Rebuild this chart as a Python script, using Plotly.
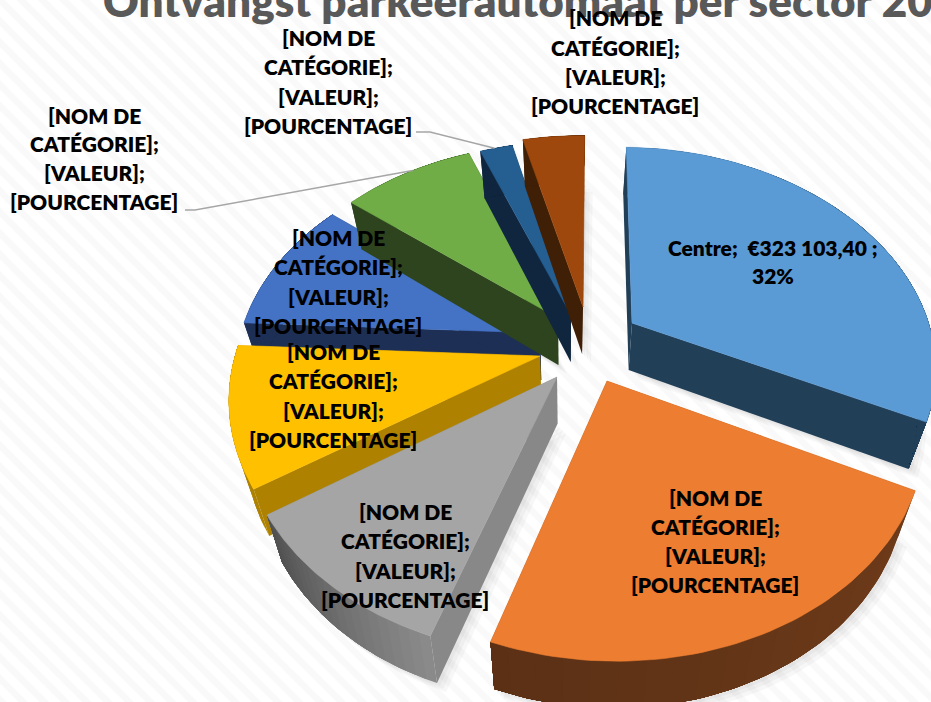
import numpy as np
import plotly.graph_objects as go

# ---- data ----
categories = ["Centre", "Cat 2", "Cat 3", "Cat 4", "Cat 5", "Cat 6", "Cat 7", "Cat 8"]
values = [323103.40, 233350, 104900, 100970, 100690, 85540, 21040, 40110]
colors = ["#5B9BD5", "#ED7D31", "#A5A5A5", "#FFC000", "#4472C4", "#70AD47", "#255E91", "#9E480E"]
radial_colors = ["#223F58", "#693A1B", "#888888", "#AE8200", "#1D2F55", "#2E441F", "#10263F", "#3F1F06"]
wall_from = ["#223F58", "#6E3B1A", "#8A8A8A", "#AE8200", "#1D2F55", "#2E441F", "#10263F", "#3F1F06"]
wall_to = ["#223F58", "#5A3015", "#4E4E4E", "#AE8200", "#1D2F55", "#2E441F", "#10263F", "#3F1F06"]
placeholder = ["[NOM DE", "CATÉGORIE];", "[VALEUR];", "[POURCENTAGE]"]
label_lines = [["Centre;  €323 103,40 ;", "32%"]] + [placeholder] * 7
title_text = "Ontvangst parkeerautomaat per sector 20"

# ---- layout of the drawing ----
W, H = 931, 702
CX, CY, R, RY, K = 565, 340, 301, 213, 0.18
ROTATION = np.radians(1.0)
DEPTH, SHRINK = 47, 0.95
tips = [(632, 323), (607, 381), (557, 377), (540, 356), (540, 333), (558, 318), (571, 315), (583, 307)]
draw_order = [4, 5, 6, 7, 3, 2, 1, 0]
label_x = [773, 715, 405, 333, 338, 94, 328, 615]
label_y = [[247, 275], [497, 526, 555, 584], [511, 540, 570, 599], [351, 380, 410, 439],
           [237, 266, 296, 325], [115, 143, 172, 201], [37, 66, 96, 125], [17, 47, 76, 105]]
LABEL_FONT = dict(family="Lato", size=21, color="#000000", weight=800)


def project(X, Y, low=False):
    s = 1 / (1 + K * Y)
    x = CX + R * X * s
    y = CY - RY * Y * s
    if low:
        x = CX + (x - CX) * SHRINK
        y = y + DEPTH
    return x, y


def unproject(px, py):
    a = (CY - py) / RY
    Y = a / (1 - K * a)
    s = 1 / (1 + K * Y)
    return (px - CX) / (R * s), Y


def mix(a, b, t):
    ca = [int(a[i:i + 2], 16) for i in (1, 3, 5)]
    cb = [int(b[i:i + 2], 16) for i in (1, 3, 5)]
    return "#%02x%02x%02x" % tuple(round(u + (v - u) * t) for u, v in zip(ca, cb))


fig = go.Figure()


def poly(xs, ys, color, width=0.0):
    fig.add_trace(go.Scatter(x=list(xs), y=list(ys), mode="lines", fill="toself", fillcolor=color,
                             line=dict(width=width, color=color), hoverinfo="skip", showlegend=False))


# background
fig.add_trace(go.Scatter(x=[0, W, W, 0, 0], y=[0, 0, H, H, 0], mode="lines", fill="toself",
                         fillcolor="#FFFFFF", line=dict(width=0), hoverinfo="skip", showlegend=False,
                         fillpattern=dict(shape="\\", size=15, solidity=0.45, fgcolor="#F3F3F3", bgcolor="#FFFFFF")))

total = sum(values)
edges = ROTATION + np.concatenate([[0], np.cumsum(values) / total * 2 * np.pi])
origin = [unproject(*t) for t in tips]


def arc(i, low=False, n=60):
    th = np.linspace(edges[i], edges[i + 1], n)
    return project(origin[i][0] + np.sin(th), origin[i][1] + np.cos(th), low)


# soft shadows
for i in range(len(values)):
    ax, ay = arc(i, True)
    ox, oy = project(*origin[i], True)
    for off in (3, 6, 9):
        poly(np.r_[ox + off, ax + off, ox + off], np.r_[oy + off, ay + off, oy + off], "rgba(0,0,0,0.03)")

# slices
for i in draw_order:
    tx, ty = arc(i, False)
    lx, ly = arc(i, True)
    ox, oy = project(*origin[i])
    bx, by = project(*origin[i], True)
    # radial walls
    poly([ox, tx[0], lx[0], bx, ox], [oy, ty[0], ly[0], by, oy], radial_colors[i])
    poly([ox, tx[-1], lx[-1], bx, ox], [oy, ty[-1], ly[-1], by, oy], radial_colors[i])
    # outer wall, painted over itself from each step to the end for the shading
    step = 3
    for j in range(0, len(tx) - 1, step):
        c = mix(wall_from[i], wall_to[i], j / (len(tx) - 1))
        poly(np.r_[tx[j:], lx[j:][::-1], tx[j]], np.r_[ty[j:], ly[j:][::-1], ty[j]], c)
    # top face
    poly(np.r_[ox, tx, ox], np.r_[oy, ty, oy], colors[i], 0.6)

# leader lines
leaders = [(5, 0.55, [(185, 210), (195, 210)]), (6, 0.45, [(416, 132), (430, 132)])]
for i, t, pts in leaders:
    th = edges[i] + t * (edges[i + 1] - edges[i])
    ex, ey = project(origin[i][0] + np.sin(th), origin[i][1] + np.cos(th))
    fig.add_trace(go.Scatter(x=[p[0] for p in pts] + [float(ex)], y=[p[1] for p in pts] + [float(ey)],
                             mode="lines", line=dict(color="#A6A6A6", width=1.5),
                             hoverinfo="skip", showlegend=False))

annotations = []
for lines, x, ys in zip(label_lines, label_x, label_y):
    for line, y in zip(lines, ys):
        annotations.append(dict(text=line, x=x, y=y, xref="x", yref="y", showarrow=False,
                                xanchor="center", yanchor="middle", font=LABEL_FONT))

fig.update_layout(
    width=W, height=H, autosize=False, margin=dict(l=0, r=0, t=0, b=0),
    paper_bgcolor="#FFFFFF", plot_bgcolor="#FFFFFF", showlegend=False,
    title=dict(text=title_text, x=103 / W, xanchor="left", xref="paper",
               y=0.998, yanchor="middle", yref="paper", pad=dict(t=0, b=0),
               font=dict(family="Lato", size=44, color="#595959", weight=800)),
    xaxis=dict(range=[0, W], visible=False, fixedrange=True),
    yaxis=dict(range=[H, 0], visible=False, fixedrange=True),
    annotations=annotations,
)
fig.write_html("out.html", config=dict(displayModeBar=False),
               post_script="document.body.style.margin='0';document.documentElement.style.overflow='hidden';")
